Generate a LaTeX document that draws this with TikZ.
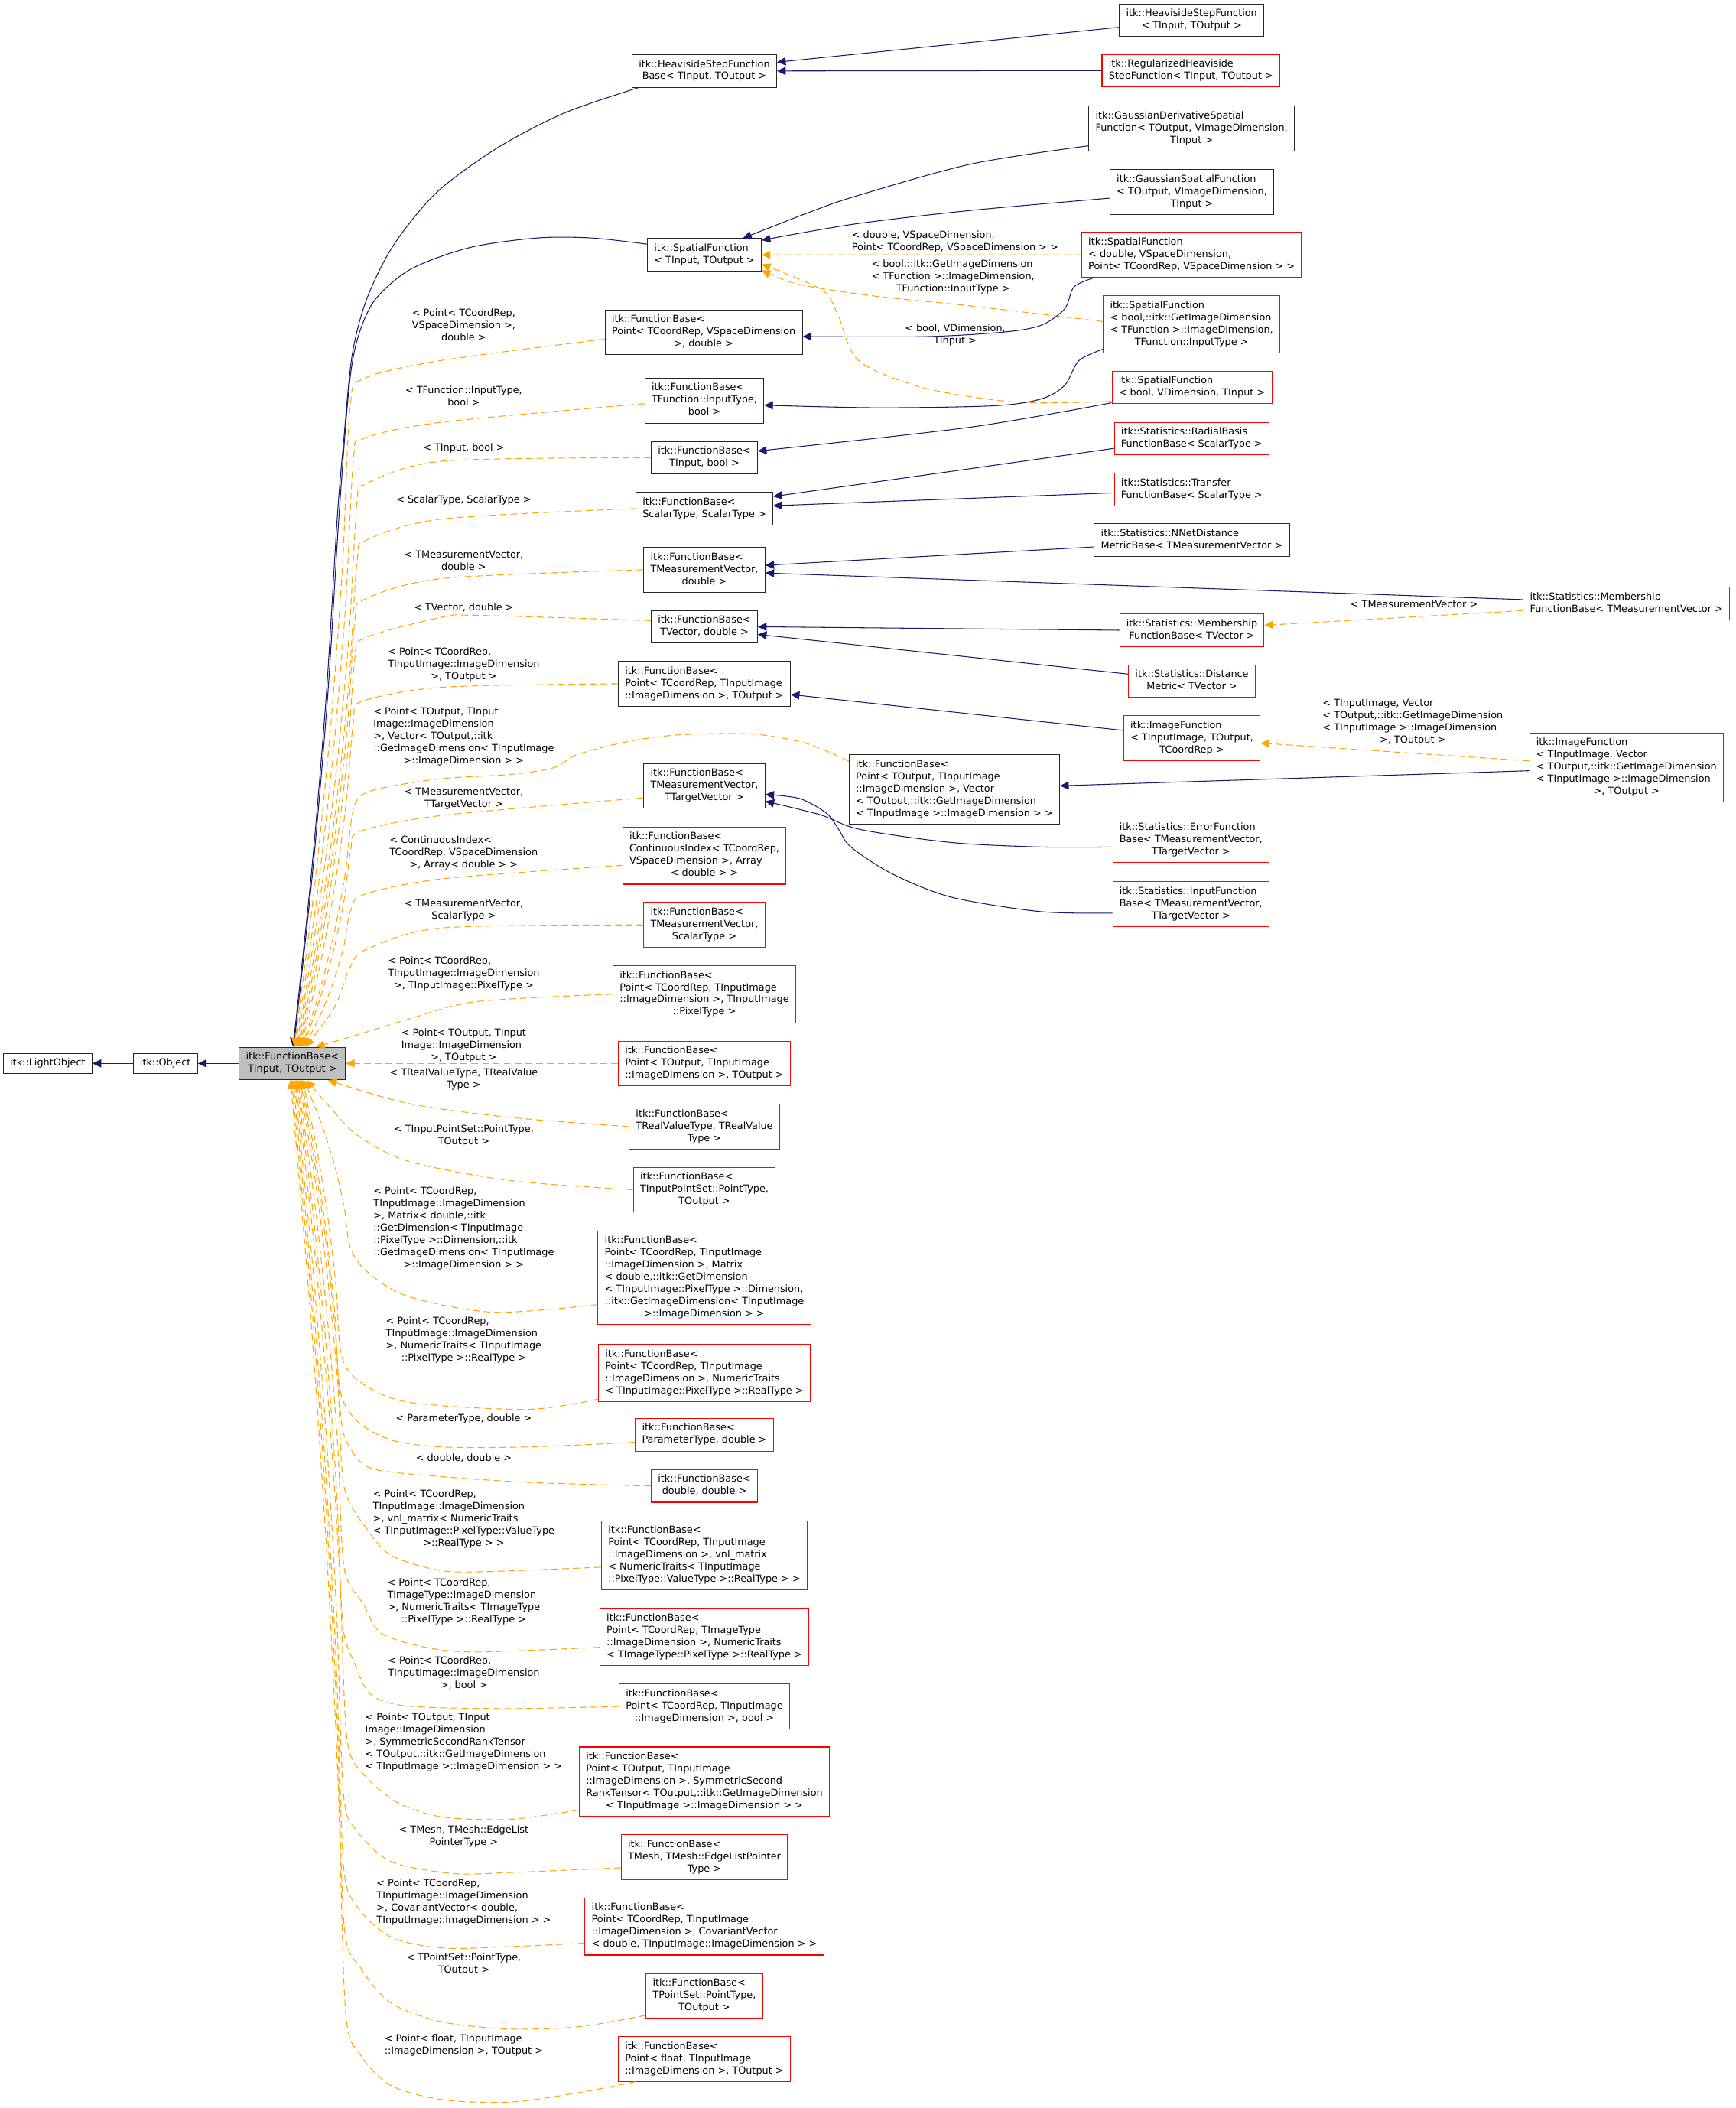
\documentclass[tikz,border=0pt]{standalone}
\usepackage{fontspec}
\setmainfont{DejaVu Sans}
\usetikzlibrary{arrows.meta}
\definecolor{navyc}{HTML}{191970}
\definecolor{orangec}{HTML}{FFA500}
\definecolor{redc}{HTML}{FF0000}
\definecolor{grayc}{HTML}{BFBFBF}
\newcommand\dfs{\fontsize{7.3}{9.1}\selectfont}
\newcommand\dxl[2]{\begin{tabular}{@{}l@{}}#1\\\multicolumn{1}{@{}c@{}}{#2}\end{tabular}}
\newcommand\sxl[1]{\begin{tabular}{@{}c@{}}#1\end{tabular}}
\tikzset{
  cls/.style={draw=black!85, fill=white, line width=0.6pt, inner xsep=5pt, inner ysep=3pt, font=\dfs},
  und/.style={cls, draw=redc},
  lbl/.style={inner sep=0pt, font=\dfs},
  inh/.style={draw=navyc, line width=0.6pt, -{Triangle[length=6.5pt,width=6pt]}},
  tpl/.style={draw=orangec, line width=0.6pt, dash pattern=on 5pt off 3pt, -{Triangle[length=6.5pt,width=6pt]}},
  sm/.style={smooth, tension=0.5}
}
\begin{document}
\begin{tikzpicture}[x=1pt,y=-1pt]
\fill[white] (0,0) rectangle (1291,1568);
\useasboundingbox (0,0) rectangle (1291,1568);

% ---------------- nodes ----------------
\node[cls] (n0) at (35.5,791) {\sxl{itk::LightObject}};
\node[cls] (n1) at (123,791) {\sxl{itk::Object}};
\node[cls, fill=grayc] (fb) at (217.5,791) {\dxl{itk::FunctionBase<}{TInput, TOutput >}};

\node[cls] (hsfb) at (524,52.8) {\dxl{itk::HeavisideStepFunction}{Base< TInput, TOutput >}};
\node[cls] (hsf) at (886.5,15) {\dxl{itk::HeavisideStepFunction}{< TInput, TOutput >}};
\node[und] (rhsf) at (886,52.5) {\dxl{itk::RegularizedHeaviside}{StepFunction< TInput, TOutput >}};
\node[cls] (gdsf) at (886.5,95.5) {\dxl{itk::GaussianDerivativeSpatial\\Function< TOutput, VImageDimension,}{TInput >}};
\node[cls] (gsf) at (886.7,142.8) {\dxl{itk::GaussianSpatialFunction\\< TOutput, VImageDimension,}{TInput >}};
\node[cls] (sf) at (524,189.6) {\dxl{itk::SpatialFunction}{< TInput, TOutput >}};
\node[und] (sfd) at (886.5,189.5) {\dxl{itk::SpatialFunction\\< double, VSpaceDimension,}{Point< TCoordRep, VSpaceDimension > >}};
\node[und] (sfb) at (886.5,241.2) {\dxl{itk::SpatialFunction\\< bool,::itk::GetImageDimension\\< TFunction >::ImageDimension,}{TFunction::InputType >}};
\node[und] (sfv) at (886.7,288.2) {\dxl{itk::SpatialFunction}{< bool, VDimension, TInput >}};

\node[cls] (fbp) at (523.5,247.3) {\dxl{itk::FunctionBase<\\Point< TCoordRep, VSpaceDimension}{>, double >}};
\node[cls] (fbti) at (524,298) {\dxl{itk::FunctionBase<\\TFunction::InputType,}{bool >}};
\node[cls] (fbib) at (524,340.5) {\dxl{itk::FunctionBase<}{TInput, bool >}};
\node[cls] (fbss) at (524,378.3) {\dxl{itk::FunctionBase<}{ScalarType, ScalarType >}};
\node[cls] (fbmd) at (524,423.8) {\dxl{itk::FunctionBase<\\TMeasurementVector,}{double >}};
\node[cls] (fbvd) at (524,466.2) {\dxl{itk::FunctionBase<}{TVector, double >}};
\node[cls] (fbpo) at (524,508.6) {\dxl{itk::FunctionBase<\\Point< TCoordRep, TInputImage}{::ImageDimension >, TOutput >}};
\node[cls] (fbmt) at (524,584.5) {\dxl{itk::FunctionBase<\\TMeasurementVector,}{TTargetVector >}};
\node[cls] (fbpv) at (710,587.2) {\dxl{itk::FunctionBase<\\Point< TOutput, TInputImage\\::ImageDimension >, Vector\\< TOutput,::itk::GetImageDimension}{< TInputImage >::ImageDimension > >}};

\node[und] (rbf) at (886.6,326.2) {\dxl{itk::Statistics::RadialBasis}{FunctionBase< ScalarType >}};
\node[und] (tfb) at (886.6,364.2) {\dxl{itk::Statistics::Transfer}{FunctionBase< ScalarType >}};
\node[cls] (nnd) at (886.7,401.8) {\dxl{itk::Statistics::NNetDistance}{MetricBase< TMeasurementVector >}};
\node[und] (mfbm) at (1210,449) {\dxl{itk::Statistics::Membership}{FunctionBase< TMeasurementVector >}};
\node[und] (mfbv) at (886.7,468.8) {\dxl{itk::Statistics::Membership}{FunctionBase< TVector >}};
\node[und] (dm) at (886.7,506.7) {\dxl{itk::Statistics::Distance}{Metric< TVector >}};
\node[und] (imf) at (886.7,549) {\dxl{itk::ImageFunction\\< TInputImage, TOutput,}{TCoordRep >}};
\node[und] (imfv) at (1210,571) {\dxl{itk::ImageFunction\\< TInputImage, Vector\\< TOutput,::itk::GetImageDimension\\< TInputImage >::ImageDimension}{>, TOutput >}};
\node[und] (efb) at (886,625) {\dxl{itk::Statistics::ErrorFunction\\Base< TMeasurementVector,}{TTargetVector >}};
\node[und] (ifb) at (886,672.5) {\dxl{itk::Statistics::InputFunction\\Base< TMeasurementVector,}{TTargetVector >}};

\node[und] (fbci) at (524,636.5) {\dxl{itk::FunctionBase<\\ContinuousIndex< TCoordRep,\\VSpaceDimension >, Array}{< double > >}};
\node[und] (fbms) at (524,688) {\dxl{itk::FunctionBase<\\TMeasurementVector,}{ScalarType >}};
\node[und] (fbpp) at (524,739.5) {\dxl{itk::FunctionBase<\\Point< TCoordRep, TInputImage\\::ImageDimension >, TInputImage}{::PixelType >}};
\node[und] (fbpto) at (524,791) {\dxl{itk::FunctionBase<\\Point< TOutput, TInputImage}{::ImageDimension >, TOutput >}};
\node[und] (fbrv) at (524,838) {\dxl{itk::FunctionBase<\\TRealValueType, TRealValue}{Type >}};
\node[und] (fbps) at (524,885) {\dxl{itk::FunctionBase<\\TInputPointSet::PointType,}{TOutput >}};
\node[und] (fbmx) at (524,950.4) {\dxl{itk::FunctionBase<\\Point< TCoordRep, TInputImage\\::ImageDimension >, Matrix\\< double,::itk::GetDimension\\< TInputImage::PixelType >::Dimension,\\::itk::GetImageDimension< TInputImage}{>::ImageDimension > >}};
\node[und] (fbnt) at (524,1021.2) {\dxl{itk::FunctionBase<\\Point< TCoordRep, TInputImage\\::ImageDimension >, NumericTraits}{< TInputImage::PixelType >::RealType >}};
\node[und] (fbpd) at (524,1067.2) {\dxl{itk::FunctionBase<}{ParameterType, double >}};
\node[und] (fbdd) at (524,1105.3) {\dxl{itk::FunctionBase<}{double, double >}};
\node[und] (fbvm) at (524,1157) {\dxl{itk::FunctionBase<\\Point< TCoordRep, TInputImage\\::ImageDimension >, vnl\_matrix\\< NumericTraits< TInputImage}{::PixelType::ValueType >::RealType > >}};
\node[und] (fbit) at (524,1217.6) {\dxl{itk::FunctionBase<\\Point< TCoordRep, TImageType\\::ImageDimension >, NumericTraits}{< TImageType::PixelType >::RealType >}};
\node[und] (fbpb) at (524,1269.3) {\dxl{itk::FunctionBase<\\Point< TCoordRep, TInputImage}{::ImageDimension >, bool >}};
\node[und] (fbst) at (524,1325.2) {\dxl{itk::FunctionBase<\\Point< TOutput, TInputImage\\::ImageDimension >, SymmetricSecond\\RankTensor< TOutput,::itk::GetImageDimension}{< TInputImage >::ImageDimension > >}};
\node[und] (fbme) at (524,1381.3) {\dxl{itk::FunctionBase<\\TMesh, TMesh::EdgeListPointer}{Type >}};
\node[und] (fbcv) at (524,1433) {\dxl{itk::FunctionBase<\\Point< TCoordRep, TInputImage\\::ImageDimension >, CovariantVector}{< double, TInputImage::ImageDimension > >}};
\node[und] (fbpst) at (524,1484.5) {\dxl{itk::FunctionBase<\\TPointSet::PointType,}{TOutput >}};
\node[und] (fbfl) at (524,1531.5) {\dxl{itk::FunctionBase<\\Point< float, TInputImage}{::ImageDimension >, TOutput >}};

% ---------------- labels ----------------
\node[lbl] (lfbp) at (345,242.6) {\dxl{< Point< TCoordRep,\\VSpaceDimension >,}{double >}};
\node[lbl] (lfbti) at (345,295.2) {\dxl{< TFunction::InputType,}{bool >}};
\node[lbl] (lfbib) at (345,333.7) {\sxl{< TInput, bool >}};
\node[lbl] (lfbss) at (345,372.3) {\sxl{< ScalarType, ScalarType >}};
\node[lbl] (lfbmd) at (345,417.9) {\dxl{< TMeasurementVector,}{double >}};
\node[lbl] (lfbvd) at (345,452.5) {\sxl{< TVector, double >}};
\node[lbl] (lfbpo) at (345,494.3) {\dxl{< Point< TCoordRep,\\TInputImage::ImageDimension}{>, TOutput >}};
\node[lbl] (lfbpv) at (345,547.8) {\dxl{< Point< TOutput, TInput\\Image::ImageDimension\\>, Vector< TOutput,::itk\\::GetImageDimension< TInputImage}{>::ImageDimension > >}};
\node[lbl] (lfbmt) at (345,594.2) {\dxl{< TMeasurementVector,}{TTargetVector >}};
\node[lbl] (lfbci) at (345,634.6) {\dxl{< ContinuousIndex<\\TCoordRep, VSpaceDimension}{>, Array< double > >}};
\node[lbl] (lfbms) at (345,677.3) {\dxl{< TMeasurementVector,}{ScalarType >}};
\node[lbl] (lfbpp) at (345,724.2) {\dxl{< Point< TCoordRep,\\TInputImage::ImageDimension}{>, TInputImage::PixelType >}};
\node[lbl] (lfbpto) at (345,777.7) {\dxl{< Point< TOutput, TInput\\Image::ImageDimension}{>, TOutput >}};
\node[lbl] (lfbrv) at (345,803.2) {\dxl{< TRealValueType, TRealValue}{Type >}};
\node[lbl] (lfbps) at (345,844.9) {\dxl{< TInputPointSet::PointType,}{TOutput >}};
\node[lbl] (lfbmx) at (345,914) {\dxl{< Point< TCoordRep,\\TInputImage::ImageDimension\\>, Matrix< double,::itk\\::GetDimension< TInputImage\\::PixelType >::Dimension,::itk\\::GetImageDimension< TInputImage}{>::ImageDimension > >}};
\node[lbl] (lfbnt) at (345,996.9) {\dxl{< Point< TCoordRep,\\TInputImage::ImageDimension\\>, NumericTraits< TInputImage}{::PixelType >::RealType >}};
\node[lbl] (lfbpd) at (345,1055.3) {\sxl{< ParameterType, double >}};
\node[lbl] (lfbdd) at (345,1085.1) {\sxl{< double, double >}};
\node[lbl] (lfbvm) at (345,1130.3) {\dxl{< Point< TCoordRep,\\TInputImage::ImageDimension\\>, vnl\_matrix< NumericTraits\\< TInputImage::PixelType::ValueType}{>::RealType > >}};
\node[lbl] (lfbit) at (345,1191.7) {\dxl{< Point< TCoordRep,\\TImageType::ImageDimension\\>, NumericTraits< TImageType}{::PixelType >::RealType >}};
\node[lbl] (lfbpb) at (345,1245.1) {\dxl{< Point< TCoordRep,\\TInputImage::ImageDimension}{>, bool >}};
\node[lbl] (lfbst) at (345,1296.4) {\dxl{< Point< TOutput, TInput\\Image::ImageDimension\\>, SymmetricSecondRankTensor\\< TOutput,::itk::GetImageDimension}{< TInputImage >::ImageDimension > >}};
\node[lbl] (lfbme) at (345,1365.9) {\dxl{< TMesh, TMesh::EdgeList}{PointerType >}};
\node[lbl] (lfbcv) at (345,1415) {\dxl{< Point< TCoordRep,\\TInputImage::ImageDimension\\>, CovariantVector< double,}{TInputImage::ImageDimension > >}};
\node[lbl] (lfbpst) at (345,1461.2) {\dxl{< TPointSet::PointType,}{TOutput >}};
\node[lbl] (lfbfl) at (345,1521.6) {\dxl{< Point< float, TInputImage}{::ImageDimension >, TOutput >}};

\node[lbl] (lsfd) at (710.5,180) {\dxl{< double, VSpaceDimension,}{Point< TCoordRep, VSpaceDimension > >}};
\node[lbl] (lsfb) at (709,206.3) {\dxl{< bool,::itk::GetImageDimension\\< TFunction >::ImageDimension,}{TFunction::InputType >}};
\node[lbl] (lsfv) at (710.6,249.5) {\dxl{< bool, VDimension,}{TInput >}};
\node[lbl] (lmfbm) at (1052,450.3) {\sxl{< TMeasurementVector >}};
\node[lbl] (limfv) at (1051,537.5) {\dxl{< TInputImage, Vector\\< TOutput,::itk::GetImageDimension\\< TInputImage >::ImageDimension}{>, TOutput >}};

% ---------------- left chain ----------------
\draw[inh] (n1.west) -- (n0.east);
\draw[inh] (fb.west) -- (n1.east);

% ---------------- top right ----------------
\draw[inh] ([yshift=-5.3pt]hsf.west) -- ([yshift=6.5pt]hsfb.east);
\draw[inh] (rhsf.west) -- (hsfb.east);
\draw[inh] plot[sm] coordinates {([yshift=4pt]gdsf.south west) (722.4,122) (635.4,146.3) (600.5,158.5) ([xshift=-14pt]sf.north east)};
\draw[inh] plot[sm] coordinates {([yshift=-4.6pt]gsf.west) (722.4,156.5) (635.4,166.7) ([yshift=-1.5pt]sf.north east)};
\draw[tpl] (sfd.west) -- (sf.east);
\draw[tpl] plot[sm] coordinates {([yshift=2pt]sfb.west) (722.4,227.6) (652.8,220.5) (593.6,211.4) (sf.-15)};
\draw[tpl] plot[sm] coordinates {([yshift=2pt]sfv.south west) (757.3,299.2) (687.6,288.6) (638.8,268.3) (623.2,233.7) (611,215.4) ([yshift=-7pt]sf.east)};
\draw[inh] plot[sm] coordinates {([xshift=10pt]sfd.south west) (799,213.4) (792.1,229.7) (774.7,241.9) (746.8,247) (687.6,250.4) ([yshift=-3pt]fbp.east)};
\draw[inh] plot[sm] coordinates {([yshift=3pt]sfb.south west) (802.6,268.3) (792.1,286.6) (774.7,296.7) (739.9,301.8) (652.8,303.3) ([yshift=-3.4pt]fbti.east)};
\draw[inh] plot[sm] coordinates {([yshift=1pt]sfv.south west) (721.4,317.8) ([yshift=5pt]fbib.east)};
\draw[inh] ([yshift=-7.3pt]rbf.west) -- ([yshift=9pt]fbss.east);
\draw[inh] ([yshift=-2.4pt]tfb.west) -- ([yshift=2.1pt]fbss.east);
\draw[inh] ([yshift=-5pt]nnd.west) -- ([yshift=3.3pt]fbmd.east);
\draw[inh] ([yshift=3pt]mfbm.west) -- ([yshift=-2.4pt]fbmd.east);
\draw[tpl] ([yshift=-5.2pt]mfbm.west) -- ([yshift=3.7pt]mfbv.east);
\draw[inh] (mfbv.west) -- (fbvd.east);
\draw[inh] ([yshift=5.3pt]dm.west) -- ([yshift=-5.7pt]fbvd.east);
\draw[inh] ([yshift=5.7pt]imf.west) -- ([yshift=-8pt]fbpo.east);
\draw[tpl] ([yshift=5pt]imfv.west) -- ([yshift=-3.7pt]imf.east);
\draw[inh] ([yshift=-2.3pt]imfv.west) -- ([yshift=2.7pt]fbpv.east);
\draw[inh] plot[sm] coordinates {([yshift=-5pt]efb.west) (774.3,630) (708,626.7) (640,617) (610,606) ([yshift=-11.5pt]fbmt.east)};
\draw[inh] plot[sm] coordinates {([yshift=-6.7pt]ifb.west) (774.3,678.1) (708,667.4) (663.7,650) (633,630) (624,617) (615,605) (595,594) ([yshift=-6.5pt]fbmt.east)};

% ---------------- navy curves into FunctionBase ----------------
\draw[inh] plot[sm] coordinates {([xshift=5pt]hsfb.south west) (420,84) (370,110) (325,143) (293,182) (273,222) (262,264) (255.5,330) (250.8,386.8) (242.7,517.5) (231.8,648.3) ([xshift=0.5pt]fb.north)};
\draw[inh] plot[sm] coordinates {([yshift=8pt]sf.west) (440,177) (400,177) (350,184) (306,200) (279,223) (266,252) (259.5,290) (252,386.8) (243.8,517.5) (232.6,648.3) ([xshift=1pt]fb.north)};

% ---------------- upper template fan ----------------
\draw[tpl] plot[sm] coordinates {([yshift=-5pt]fbp.west) (329,268) (271,281.5) (260.5,302) (254.8,421.3) (246,540.5) (234,659.8) ([xshift=1.5pt]fb.north)};
\draw[tpl] plot[sm] coordinates {([yshift=-2.3pt]fbti.west) (329,314) (271,326) (263,341) (257.1,450.5) (247.9,560) (235.5,669.5) ([xshift=2.3pt]fb.north)};
\draw[tpl] plot[sm] coordinates {(fbib.west) (329,343) (272,360) (265.7,373) (259.5,474.5) (249.9,576) (236.9,677.5) ([xshift=3.1pt]fb.north)};
\draw[tpl] plot[sm] coordinates {(fbss.west) (329,386) (273,401.6) (265.7,417) (259.6,507.5) (250.2,598) (237.5,688.5) ([xshift=3.9pt]fb.north)};
\draw[tpl] plot[sm] coordinates {(fbmd.west) (329,430.3) (271,446) (264,462) (258.3,541.3) (249.4,620.5) (237.4,699.8) ([xshift=4.7pt]fb.north)};
\draw[tpl] plot[sm] coordinates {([yshift=4.6pt]fbvd.west) (354.6,457.7) (329,459) (271,474.7) (264,490) (258.4,562.3) (249.7,634.5) (237.9,706.8) ([xshift=5.5pt]fb.north)};
\draw[tpl] plot[sm] coordinates {(fbpo.west) (329,511.2) (269.5,521.7) (263,536) (257.6,596.8) (249.3,657.5) (238,718.3) ([xshift=6.3pt]fb.north)};
\draw[tpl] plot[sm] coordinates {([yshift=-5pt]fbpv.north west) (600,553) (560,546) (507,546.5) (470,551) (430,561) (412,571) (380,576) (329.2,579.1) (285,586) (268.2,592.2) (262,606) (256.9,649.3) (248.9,692.5) (238.2,735.8) ([xshift=7.1pt]fb.north)};
\draw[tpl] plot[sm] coordinates {([yshift=-9pt]fbmt.west) (329.2,606.5) (268.2,618.3) (261,632) (256.1,668.8) (248.5,705.5) (238.3,742.3) ([xshift=7.9pt]fb.north)};
\draw[tpl] plot[sm] coordinates {([yshift=-7.2pt]fbci.west) (329.2,653.7) (270.8,665.4) (260.6,678) (255.9,703.3) (248.6,728.5) (238.7,754.3) ([xshift=8.7pt]fb.north)};
\draw[tpl] plot[sm] coordinates {(fbms.west) (329.2,690.2) (273.3,705.9) (260.6,719) (249,749) ([xshift=10pt]fb.north)};
\draw[tpl] plot[sm] coordinates {(fbpp.west) (354.6,745) (303.8,758.1) (265,770) ([xshift=17.5pt]fb.north)};
\draw[tpl] (fbpto.west) -- (fb.east);

% ---------------- lower template fan ----------------
\draw[tpl] plot[sm] coordinates {(fbrv.west) (380,831.2) (303.8,820.8) ([xshift=26.5pt]fb.south)};
\draw[tpl] plot[sm] coordinates {(fbps.west) (380,878.2) (303.8,863.8) (265.7,844.3) (245.4,823.4) ([xshift=10.5pt]fb.south)};
\draw[tpl] plot[sm] coordinates {([yshift=-20pt]fbmx.west) (367.3,976.1) (303.8,964.4) (273.3,946.1) (260.6,927.8) (255.8,896.6) (248.5,865.4) (238.5,834.2) ([xshift=8.5pt]fb.south)};
\draw[tpl] plot[sm] coordinates {([yshift=2pt]fbnt.south west) (392.7,1048.3) (303.8,1043) (268,1028) (254,1008) (250,956.8) (243.9,905.5) (235.6,854.3) ([xshift=7.6pt]fb.south)};
\draw[tpl] plot[sm] coordinates {([yshift=-5.6pt]fbpd.west) (392.7,1076.3) (329.2,1076.3) (291.1,1071.1) (265.7,1057) (253,1034) (249,976.3) (242.9,918.5) (234.6,860.8) ([xshift=6.7pt]fb.south)};
\draw[tpl] plot[sm] coordinates {(fbdd.west) (392.7,1102.6) (316.5,1097.4) (275.9,1092.1) (261,1078) (254,1058) (249.8,994.3) (243.3,930.5) (234.4,866.8) ([xshift=5.8pt]fb.south)};
\draw[tpl] plot[sm] coordinates {([yshift=-8.7pt]fbvm.west) (354.6,1169.2) (324.1,1167.5) (291.1,1157) (273.3,1137.7) (256,1106) (251.4,1030.3) (244.2,954.5) (234.6,878.8) ([xshift=4.9pt]fb.south)};
\draw[tpl] plot[sm] coordinates {([yshift=-7.7pt]fbit.west) (354.6,1228.8) (316.5,1225.3) (283.5,1214.8) (270.8,1193.8) (256,1166) (251.3,1075.3) (243.9,984.5) (234,893.8) ([xshift=4pt]fb.south)};
\draw[tpl] plot[sm] coordinates {(fbpb.west) (380,1270.9) (303.8,1269.1) (275.9,1260.4) (263.2,1235.8) (255,1208) (250.3,1106.8) (243,1005.5) (233.1,904.3) ([xshift=3.1pt]fb.south)};
\draw[tpl] plot[sm] coordinates {([yshift=5pt]fbst.south west) (380,1353.2) (329.2,1351.5) (296.2,1341) (270.8,1320) (258,1292) (252.7,1169.8) (244.6,1047.5) (233.6,925.3) ([xshift=2.2pt]fb.south)};
\draw[tpl] plot[sm] coordinates {([yshift=-8pt]fbme.west) (380,1392.8) (336.8,1393.5) (291.1,1384.8) (265.7,1362) (255.5,1334) (250.5,1201.3) (242.7,1068) (232.1,935.8) ([xshift=1.3pt]fb.south)};
\draw[tpl] plot[sm] coordinates {([yshift=-12.4pt]fbcv.west) (380,1447.9) (329.2,1449) (291.1,1440.9) (265.7,1418.1) (255.5,1386.5) (250.3,1240.6) (242.3,1094.8) (231.5,948.9) ([xshift=0.4pt]fb.south)};
\draw[tpl] plot[sm] coordinates {([yshift=2.4pt]fbpst.south west) (430.8,1507.5) (380,1509.2) (329.2,1504) (291.1,1490) (268.2,1463.6) (256,1432) (250.6,1274.8) (242.4,1117.5) (231.1,960.3) ([xshift=-0.5pt]fb.south)};
\draw[tpl] plot[sm] coordinates {([xshift=13pt]fbfl.south west) (430.8,1556.5) (380,1563.5) (329.2,1561.8) (291.1,1551.3) (268.2,1528.5) (257,1495) (251.4,1322) (242.7,1149) (230.9,976) ([xshift=-1.4pt]fb.south)};
\end{tikzpicture}
\end{document}
